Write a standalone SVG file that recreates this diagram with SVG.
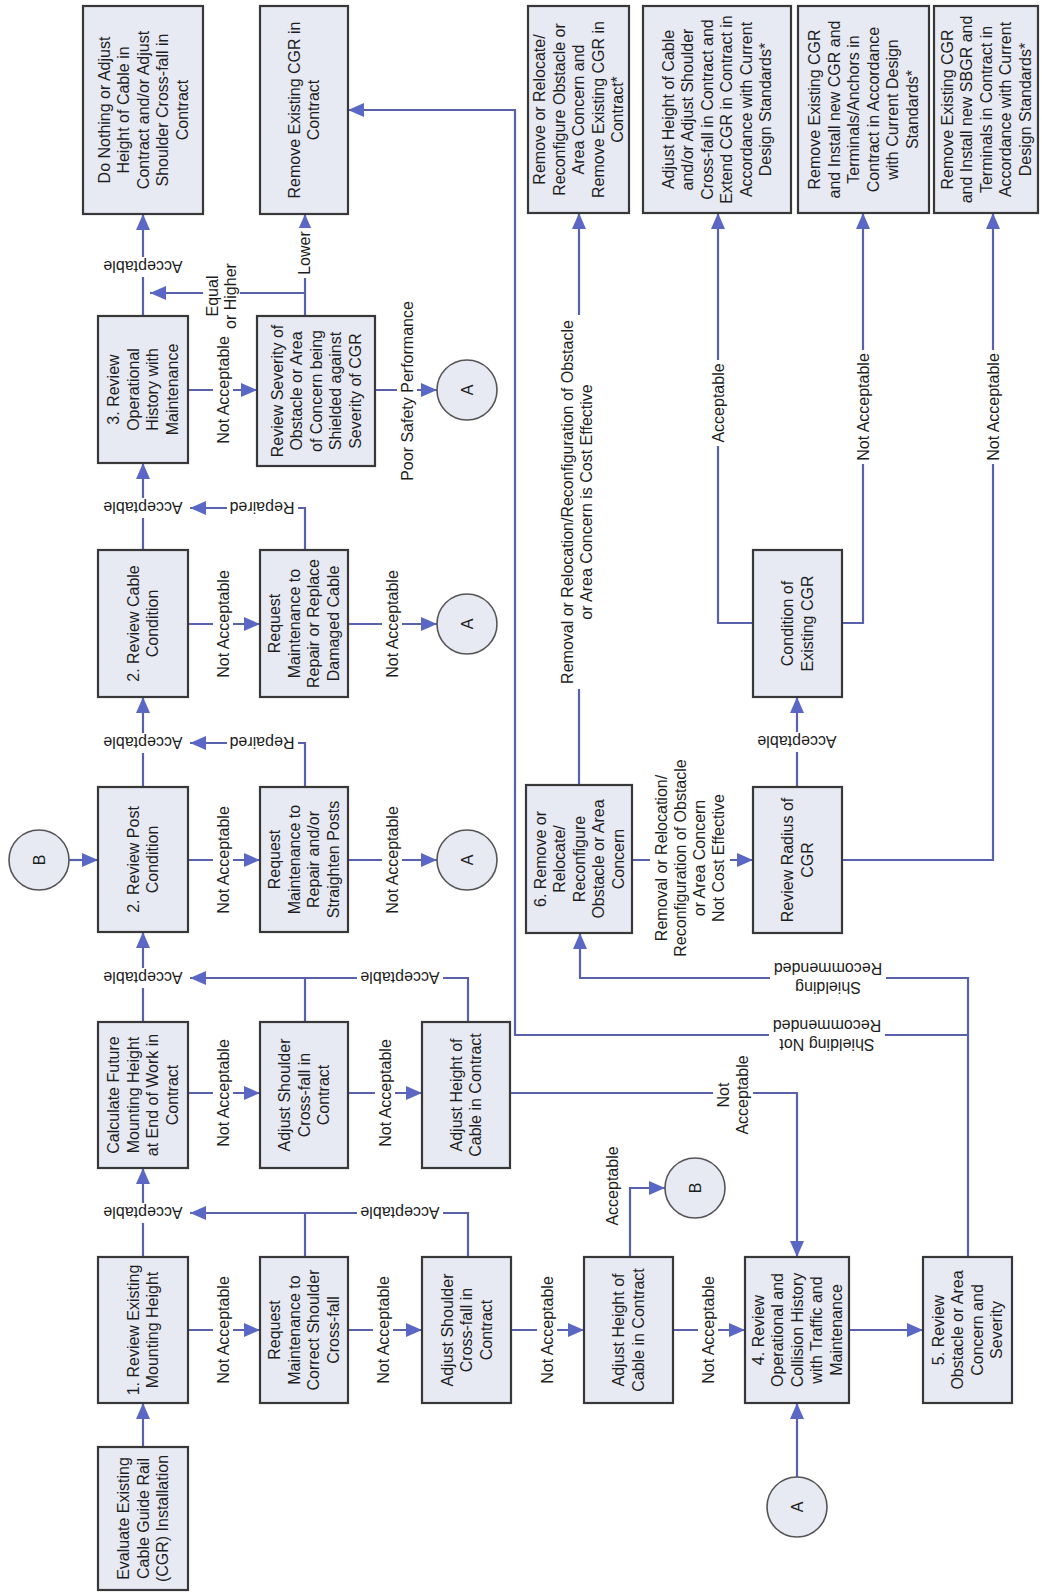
<svg xmlns="http://www.w3.org/2000/svg" width="1042" height="1593" viewBox="0 0 1042 1593">
<style>
.box{fill:#E7E9F3;stroke:#383838;stroke-width:2.2}
.circ{fill:#E7E9F3;stroke:#555;stroke-width:1.6}
.t{font-family:"Liberation Sans",Arial,sans-serif;font-size:16px;fill:#1e1e1e;text-anchor:middle}
.ln{fill:none;stroke:#5961AC;stroke-width:2.2}
.bg{fill:#fff}
</style>
<defs>
<marker id="ah" markerUnits="userSpaceOnUse" markerWidth="16" markerHeight="14" refX="16" refY="7" orient="auto"><path d="M0,0 L16,7 L0,14 z" fill="#5B67C4"/></marker>
</defs>
<rect width="1042" height="1593" fill="#fff"/>
<g id="connectors">
<path class="ln" d="M143,1447 V1403" marker-end="url(#ah)"/>
<path class="ln" d="M143,1257 V1168" marker-end="url(#ah)"/>
<path class="ln" d="M188,1330 H260" marker-end="url(#ah)"/>
<path class="ln" d="M468,1257 V1213 H190" marker-end="url(#ah)"/>
<path class="ln" d="M305,1257 V1213"/>
<path class="ln" d="M348,1330 H422" marker-end="url(#ah)"/>
<path class="ln" d="M511,1330 H584" marker-end="url(#ah)"/>
<path class="ln" d="M673,1330 H745" marker-end="url(#ah)"/>
<path class="ln" d="M630,1257 V1188 H665" marker-end="url(#ah)"/>
<path class="ln" d="M849,1330 H923" marker-end="url(#ah)"/>
<path class="ln" d="M797,1477 V1403" marker-end="url(#ah)"/>
<path class="ln" d="M143,1022 V932" marker-end="url(#ah)"/>
<path class="ln" d="M188,1093 H260" marker-end="url(#ah)"/>
<path class="ln" d="M348,1093 H422" marker-end="url(#ah)"/>
<path class="ln" d="M468,1022 V978 H190" marker-end="url(#ah)"/>
<path class="ln" d="M305,1022 V978"/>
<path class="ln" d="M510,1093 H797 V1257" marker-end="url(#ah)"/>
<path class="ln" d="M69,860 H98" marker-end="url(#ah)"/>
<path class="ln" d="M143,787 V697" marker-end="url(#ah)"/>
<path class="ln" d="M188,860 H260" marker-end="url(#ah)"/>
<path class="ln" d="M348,860 H437" marker-end="url(#ah)"/>
<path class="ln" d="M305,787 V743 H190" marker-end="url(#ah)"/>
<path class="ln" d="M143,550 V463" marker-end="url(#ah)"/>
<path class="ln" d="M188,624 H260" marker-end="url(#ah)"/>
<path class="ln" d="M348,624 H437" marker-end="url(#ah)"/>
<path class="ln" d="M305,550 V508 H190" marker-end="url(#ah)"/>
<path class="ln" d="M143,316 V214" marker-end="url(#ah)"/>
<path class="ln" d="M188,390 H257" marker-end="url(#ah)"/>
<path class="ln" d="M305,316 V293 H150" marker-end="url(#ah)"/>
<path class="ln" d="M305,293 V214" marker-end="url(#ah)"/>
<path class="ln" d="M375,390 H437" marker-end="url(#ah)"/>
<path class="ln" d="M579,785 V213" marker-end="url(#ah)"/>
<path class="ln" d="M632,860 H753" marker-end="url(#ah)"/>
<path class="ln" d="M797,787 V697" marker-end="url(#ah)"/>
<path class="ln" d="M753,623 H718 V213" marker-end="url(#ah)"/>
<path class="ln" d="M842,623 H863 V213" marker-end="url(#ah)"/>
<path class="ln" d="M842,860 H993 V213" marker-end="url(#ah)"/>
<path class="ln" d="M968,1257 V978 H580 V933" marker-end="url(#ah)"/>
<path class="ln" d="M968,1035 H515 V110 H348" marker-end="url(#ah)"/>
</g>
<g id="labels">
<!-- rotated -90 Not Acceptable labels -->
<g id="na1"><rect class="bg" x="213" y="333" width="20" height="114"/><text class="t" transform="translate(223,390) rotate(-90)" y="5.6">Not Acceptable</text></g>
<g id="na2"><rect class="bg" x="213" y="567" width="20" height="114"/><text class="t" transform="translate(223,624) rotate(-90)" y="5.6">Not Acceptable</text></g>
<g id="na3"><rect class="bg" x="213" y="803" width="20" height="114"/><text class="t" transform="translate(223,860) rotate(-90)" y="5.6">Not Acceptable</text></g>
<g id="na4"><rect class="bg" x="213" y="1036" width="20" height="114"/><text class="t" transform="translate(223,1093) rotate(-90)" y="5.6">Not Acceptable</text></g>
<g id="na5"><rect class="bg" x="213" y="1273" width="20" height="114"/><text class="t" transform="translate(223,1330) rotate(-90)" y="5.6">Not Acceptable</text></g>
<g id="na6"><rect class="bg" x="382" y="567" width="20" height="114"/><text class="t" transform="translate(392,624) rotate(-90)" y="5.6">Not Acceptable</text></g>
<g id="na7"><rect class="bg" x="382" y="803" width="20" height="114"/><text class="t" transform="translate(392,860) rotate(-90)" y="5.6">Not Acceptable</text></g>
<g id="na8"><rect class="bg" x="375" y="1036" width="20" height="114"/><text class="t" transform="translate(385,1093) rotate(-90)" y="5.6">Not Acceptable</text></g>
<g id="na9"><rect class="bg" x="373" y="1273" width="20" height="114"/><text class="t" transform="translate(383,1330) rotate(-90)" y="5.6">Not Acceptable</text></g>
<g id="na10"><rect class="bg" x="537" y="1273" width="20" height="114"/><text class="t" transform="translate(547,1330) rotate(-90)" y="5.6">Not Acceptable</text></g>
<g id="na11"><rect class="bg" x="698" y="1273" width="20" height="114"/><text class="t" transform="translate(708,1330) rotate(-90)" y="5.6">Not Acceptable</text></g>
<g id="na12"><rect class="bg" x="853" y="350" width="20" height="114"/><text class="t" transform="translate(863,407) rotate(-90)" y="5.6">Not Acceptable</text></g>
<g id="na13"><rect class="bg" x="983" y="350" width="20" height="114"/><text class="t" transform="translate(993,407) rotate(-90)" y="5.6">Not Acceptable</text></g>
<g id="na14"><rect class="bg" x="713" y="1052" width="40" height="86"/><text class="t" transform="translate(733,1095) rotate(-90)"><tspan x="0" y="-3.9">Not</tspan><tspan x="0" y="15.1">Acceptable</tspan></text></g>
<g id="ac-r1"><rect class="bg" x="708" y="360" width="20" height="86"/><text class="t" transform="translate(718,403) rotate(-90)" y="5.6">Acceptable</text></g>
<g id="ac-r2"><text class="t" transform="translate(612,1186) rotate(-90)" y="5.6">Acceptable</text></g>
<g id="eqh"><rect class="bg" x="203" y="259" width="37" height="74"/><text class="t" transform="translate(221,296) rotate(-90)"><tspan x="0" y="-3.4">Equal</tspan><tspan x="0" y="14.6">or Higher</tspan></text></g>
<g id="lower"><rect class="bg" x="294" y="228" width="20" height="50"/><text class="t" transform="translate(304,253) rotate(-90)" y="5.6">Lower</text></g>
<g id="poor"><rect class="bg" x="397" y="292" width="20" height="200"/><text class="t" transform="translate(407,391) rotate(-90)" y="5.6">Poor Safety Performance</text></g>
<g id="costeff"><rect class="bg" x="557" y="315" width="40" height="374"/><text class="t" transform="translate(577,502) rotate(-90)"><tspan x="0" y="-3.9">Removal or Relocation/Reconfiguration of Obstacle</tspan><tspan x="0" y="15.1">or Area Concern is Cost Effective</tspan></text></g>
<g id="notcost"><rect class="bg" x="650" y="755" width="80" height="207"/><text class="t" transform="translate(690,858) rotate(-90)"><tspan x="0" y="-22.9">Removal or Relocation/</tspan><tspan x="0" y="-3.9">Reconfiguration of Obstacle</tspan><tspan x="0" y="15.1">or Area Concern</tspan><tspan x="0" y="34.1">Not Cost Effective</tspan></text></g>
<!-- upside-down labels -->
<g id="ud1"><rect class="bg" x="100" y="257" width="86" height="20"/><text class="t" transform="translate(143,267) rotate(180)" y="5.6">Acceptable</text></g>
<g id="ud2"><rect class="bg" x="100" y="498" width="86" height="20"/><text class="t" transform="translate(143,508) rotate(180)" y="5.6">Acceptable</text></g>
<g id="ud3"><rect class="bg" x="100" y="733" width="86" height="20"/><text class="t" transform="translate(143,743) rotate(180)" y="5.6">Acceptable</text></g>
<g id="ud4"><rect class="bg" x="100" y="968" width="86" height="20"/><text class="t" transform="translate(143,978) rotate(180)" y="5.6">Acceptable</text></g>
<g id="ud5"><rect class="bg" x="100" y="1203" width="86" height="20"/><text class="t" transform="translate(143,1213) rotate(180)" y="5.6">Acceptable</text></g>
<g id="ud6"><rect class="bg" x="357" y="968" width="86" height="20"/><text class="t" transform="translate(400,978) rotate(180)" y="5.6">Acceptable</text></g>
<g id="ud7"><rect class="bg" x="357" y="1203" width="86" height="20"/><text class="t" transform="translate(400,1213) rotate(180)" y="5.6">Acceptable</text></g>
<g id="ud8"><rect class="bg" x="754" y="732" width="86" height="20"/><text class="t" transform="translate(797,742) rotate(180)" y="5.6">Acceptable</text></g>
<g id="rep1"><rect class="bg" x="227" y="498" width="71" height="20"/><text class="t" transform="translate(262,508) rotate(180)" y="5.6">Repaired</text></g>
<g id="rep2"><rect class="bg" x="227" y="733" width="71" height="20"/><text class="t" transform="translate(262,743) rotate(180)" y="5.6">Repaired</text></g>
<g id="sh1"><rect class="bg" x="770" y="958" width="116" height="40"/><text class="t" transform="translate(828,978) rotate(180)"><tspan x="0" y="-3.9">Shielding</tspan><tspan x="0" y="15.1">Recommended</tspan></text></g>
<g id="sh2"><rect class="bg" x="769" y="1015" width="116" height="40"/><text class="t" transform="translate(827,1035) rotate(180)"><tspan x="0" y="-3.9">Shielding Not</tspan><tspan x="0" y="15.1">Recommended</tspan></text></g>
</g>
<g id="n-donothing"><rect class="box" x="83" y="6" width="120" height="208"/><text class="t" transform="translate(143,110) rotate(-90)"><tspan x="0" y="-33.4">Do Nothing or Adjust</tspan><tspan x="0" y="-13.9">Height of Cable in</tspan><tspan x="0" y="5.6">Contract and/or Adjust</tspan><tspan x="0" y="25.1">Shoulder Cross-fall in</tspan><tspan x="0" y="44.6">Contract</tspan></text></g>
<g id="n-remove"><rect class="box" x="260" y="6" width="88" height="208"/><text class="t" transform="translate(304,110) rotate(-90)"><tspan x="0" y="-4.15">Remove Existing CGR in</tspan><tspan x="0" y="15.35">Contract</tspan></text></g>
<g id="n-review3"><rect class="box" x="98" y="316" width="90" height="147"/><text class="t" transform="translate(143,389.5) rotate(-90)"><tspan x="0" y="-23.65">3. Review</tspan><tspan x="0" y="-4.15">Operational</tspan><tspan x="0" y="15.35">History with</tspan><tspan x="0" y="34.85">Maintenance</tspan></text></g>
<g id="n-severity"><rect class="box" x="257" y="316" width="118" height="150"/><text class="t" transform="translate(316,391) rotate(-90)"><tspan x="0" y="-33.4">Review Severity of</tspan><tspan x="0" y="-13.9">Obstacle or Area</tspan><tspan x="0" y="5.6">of Concern being</tspan><tspan x="0" y="25.1">Shielded against</tspan><tspan x="0" y="44.6">Severity of CGR</tspan></text></g>
<g id="n-cable"><rect class="box" x="98" y="550" width="90" height="147"/><text class="t" transform="translate(143,623.5) rotate(-90)"><tspan x="0" y="-4.15">2. Review Cable</tspan><tspan x="0" y="15.35">Condition</tspan></text></g>
<g id="n-reqcable"><rect class="box" x="260" y="550" width="88" height="147"/><text class="t" transform="translate(304,623.5) rotate(-90)"><tspan x="0" y="-23.65">Request</tspan><tspan x="0" y="-4.15">Maintenance to</tspan><tspan x="0" y="15.35">Repair or Replace</tspan><tspan x="0" y="34.85">Damaged Cable</tspan></text></g>
<g id="n-post"><rect class="box" x="98" y="787" width="90" height="145"/><text class="t" transform="translate(143,859.5) rotate(-90)"><tspan x="0" y="-4.15">2. Review Post</tspan><tspan x="0" y="15.35">Condition</tspan></text></g>
<g id="n-reqpost"><rect class="box" x="260" y="787" width="88" height="145"/><text class="t" transform="translate(304,859.5) rotate(-90)"><tspan x="0" y="-23.65">Request</tspan><tspan x="0" y="-4.15">Maintenance to</tspan><tspan x="0" y="15.35">Repair and/or</tspan><tspan x="0" y="34.85">Straighten Posts</tspan></text></g>
<g id="n-calc"><rect class="box" x="98" y="1022" width="90" height="146"/><text class="t" transform="translate(143,1095) rotate(-90)"><tspan x="0" y="-23.65">Calculate Future</tspan><tspan x="0" y="-4.15">Mounting Height</tspan><tspan x="0" y="15.35">at End of Work in</tspan><tspan x="0" y="34.85">Contract</tspan></text></g>
<g id="n-adjsh2"><rect class="box" x="260" y="1022" width="88" height="146"/><text class="t" transform="translate(304,1095) rotate(-90)"><tspan x="0" y="-13.9">Adjust Shoulder</tspan><tspan x="0" y="5.6">Cross-fall in</tspan><tspan x="0" y="25.1">Contract</tspan></text></g>
<g id="n-adjht2"><rect class="box" x="422" y="1022" width="88" height="146"/><text class="t" transform="translate(466,1095) rotate(-90)"><tspan x="0" y="-4.15">Adjust Height of</tspan><tspan x="0" y="15.35">Cable in Contract</tspan></text></g>
<g id="n-evaluate"><rect class="box" x="98" y="1447" width="90" height="143"/><text class="t" transform="translate(143,1518.5) rotate(-90)"><tspan x="0" y="-13.9">Evaluate Existing</tspan><tspan x="0" y="5.6">Cable Guide Rail</tspan><tspan x="0" y="25.1">(CGR) Installation</tspan></text></g>
<g id="n-review1"><rect class="box" x="98" y="1257" width="90" height="146"/><text class="t" transform="translate(143,1330) rotate(-90)"><tspan x="0" y="-4.15">1. Review Existing</tspan><tspan x="0" y="15.35">Mounting Height</tspan></text></g>
<g id="n-reqcorr"><rect class="box" x="260" y="1257" width="88" height="146"/><text class="t" transform="translate(304,1330) rotate(-90)"><tspan x="0" y="-23.65">Request</tspan><tspan x="0" y="-4.15">Maintenance to</tspan><tspan x="0" y="15.35">Correct Shoulder</tspan><tspan x="0" y="34.85">Cross-fall</tspan></text></g>
<g id="n-adjsh1"><rect class="box" x="422" y="1257" width="89" height="146"/><text class="t" transform="translate(466.5,1330) rotate(-90)"><tspan x="0" y="-13.9">Adjust Shoulder</tspan><tspan x="0" y="5.6">Cross-fall in</tspan><tspan x="0" y="25.1">Contract</tspan></text></g>
<g id="n-adjht1"><rect class="box" x="584" y="1257" width="89" height="146"/><text class="t" transform="translate(628.5,1330) rotate(-90)"><tspan x="0" y="-4.15">Adjust Height of</tspan><tspan x="0" y="15.35">Cable in Contract</tspan></text></g>
<g id="n-review4"><rect class="box" x="745" y="1257" width="104" height="146"/><text class="t" transform="translate(797,1330) rotate(-90)"><tspan x="0" y="-33.4">4. Review</tspan><tspan x="0" y="-13.9">Operational and</tspan><tspan x="0" y="5.6">Collision History</tspan><tspan x="0" y="25.1">with Traffic and</tspan><tspan x="0" y="44.6">Maintenance</tspan></text></g>
<g id="n-review5"><rect class="box" x="923" y="1257" width="89" height="146"/><text class="t" transform="translate(967.5,1330) rotate(-90)"><tspan x="0" y="-23.65">5. Review</tspan><tspan x="0" y="-4.15">Obstacle or Area</tspan><tspan x="0" y="15.35">Concern and</tspan><tspan x="0" y="34.85">Severity</tspan></text></g>
<g id="n-review6"><rect class="box" x="526" y="785" width="106" height="148"/><text class="t" transform="translate(579,859) rotate(-90)"><tspan x="0" y="-33.4">6. Remove or</tspan><tspan x="0" y="-13.9">Relocate/</tspan><tspan x="0" y="5.6">Reconfigure</tspan><tspan x="0" y="25.1">Obstacle or Area</tspan><tspan x="0" y="44.6">Concern</tspan></text></g>
<g id="n-radius"><rect class="box" x="753" y="787" width="89" height="146"/><text class="t" transform="translate(797.5,860) rotate(-90)"><tspan x="0" y="-4.15">Review Radius of</tspan><tspan x="0" y="15.35">CGR</tspan></text></g>
<g id="n-condition"><rect class="box" x="753" y="550" width="89" height="147"/><text class="t" transform="translate(797.5,623.5) rotate(-90)"><tspan x="0" y="-4.15">Condition of</tspan><tspan x="0" y="15.35">Existing CGR</tspan></text></g>
<g id="n-relocate"><rect class="box" x="528" y="6" width="101" height="207"/><text class="t" transform="translate(578.5,109.5) rotate(-90)"><tspan x="0" y="-33.4">Remove or Relocate/</tspan><tspan x="0" y="-13.9">Reconfigure Obstacle or</tspan><tspan x="0" y="5.6">Area Concern and</tspan><tspan x="0" y="25.1">Remove Existing CGR in</tspan><tspan x="0" y="44.6">Contract*</tspan></text></g>
<g id="n-extend"><rect class="box" x="643" y="6" width="148" height="207"/><text class="t" transform="translate(717,109.5) rotate(-90)"><tspan x="0" y="-43.15">Adjust Height of Cable</tspan><tspan x="0" y="-23.65">and/or Adjust Shoulder</tspan><tspan x="0" y="-4.15">Cross-fall in Contract and</tspan><tspan x="0" y="15.35">Extend CGR in Contract in</tspan><tspan x="0" y="34.85">Accordance with Current</tspan><tspan x="0" y="54.35">Design Standards*</tspan></text></g>
<g id="n-newcgr"><rect class="box" x="798" y="6" width="131" height="207"/><text class="t" transform="translate(863.5,109.5) rotate(-90)"><tspan x="0" y="-43.15">Remove Existing CGR</tspan><tspan x="0" y="-23.65">and Install new CGR and</tspan><tspan x="0" y="-4.15">Terminals/Anchors in</tspan><tspan x="0" y="15.35">Contract in Accordance</tspan><tspan x="0" y="34.85">with Current Design</tspan><tspan x="0" y="54.35">Standards*</tspan></text></g>
<g id="n-sbgr"><rect class="box" x="934" y="6" width="104" height="207"/><text class="t" transform="translate(986,109.5) rotate(-90)"><tspan x="0" y="-33.4">Remove Existing CGR</tspan><tspan x="0" y="-13.9">and Install new SBGR and</tspan><tspan x="0" y="5.6">Terminals in Contract in</tspan><tspan x="0" y="25.1">Accordance with Current</tspan><tspan x="0" y="44.6">Design Standards*</tspan></text></g>
<g id="c-a1"><circle class="circ" cx="467" cy="390" r="30"/><text class="t" transform="translate(467,390) rotate(-90)" y="5.6">A</text></g>
<g id="c-a2"><circle class="circ" cx="467" cy="624" r="30"/><text class="t" transform="translate(467,624) rotate(-90)" y="5.6">A</text></g>
<g id="c-a3"><circle class="circ" cx="467" cy="860" r="30"/><text class="t" transform="translate(467,860) rotate(-90)" y="5.6">A</text></g>
<g id="c-a4"><circle class="circ" cx="797" cy="1507" r="30"/><text class="t" transform="translate(797,1507) rotate(-90)" y="5.6">A</text></g>
<g id="c-b1"><circle class="circ" cx="39" cy="860" r="30"/><text class="t" transform="translate(39,860) rotate(-90)" y="5.6">B</text></g>
<g id="c-b2"><circle class="circ" cx="695" cy="1188" r="30"/><text class="t" transform="translate(695,1188) rotate(-90)" y="5.6">B</text></g>
</svg>
